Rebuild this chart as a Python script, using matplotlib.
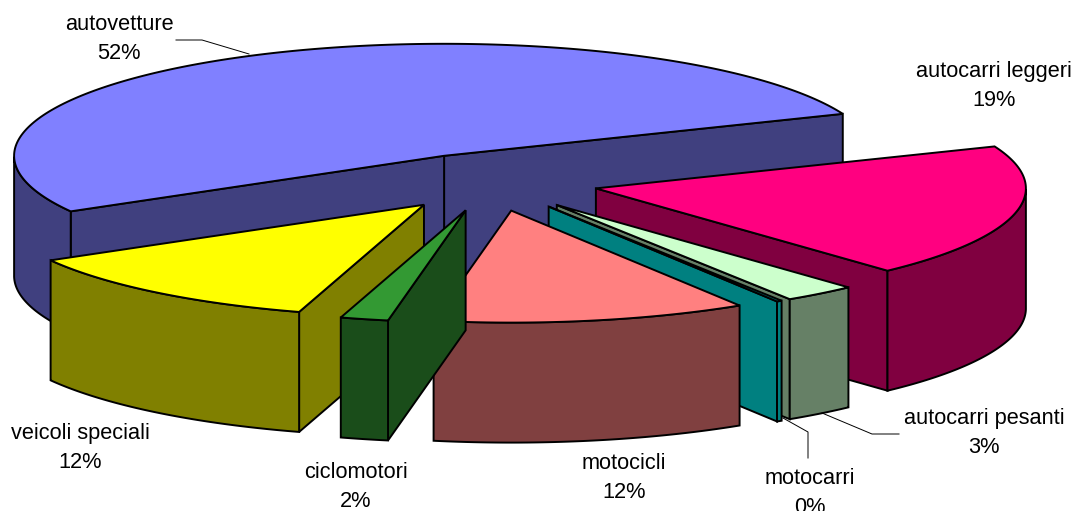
import numpy as np
import matplotlib
matplotlib.use("Agg")
import matplotlib.pyplot as plt
from matplotlib.patches import Polygon

plt.rcParams['font.family'] = ['Liberation Sans', 'DejaVu Sans']

# -----------------------------
# Data (clockwise from the autocarri leggeri slice)
# -----------------------------
labels = ["autocarri leggeri", "autocarri pesanti", "motocarri", "motocicli",
          "ciclomotori", "veicoli speciali", "autovetture"]
values = [19.25, 2.75, 0.2, 11.8, 1.8, 12.05, 52.15]
shown = ["19%", "3%", "0%", "12%", "2%", "12%", "52%"]
top_colors = ["#FF0080", "#CCFFCC", "#008080", "#FF8080", "#339933", "#FFFF00", "#8080FF"]
side_colors = ["#800040", "#668066", "#008080", "#804040", "#1A4D1A", "#808000", "#40407F"]

# -----------------------------
# Pie geometry, in pixels
# -----------------------------
CX, CY = 491, 182
RX, RY = 430, 112
DEPTH = 120
EXPLODE_X, EXPLODE_Y = 0.25, 0.26
START = 22.0
LW = 1.4

label_pos = [(994, 86), (984, 433), (810, 493), (624, 478), (356, 487), (80, 448), (119, 39)]
leaders = [
    [(176, 40), (202, 40), (249, 54)],
    [(899, 434), (872, 434), (822, 413)],
    [(808, 458), (808, 432), (783, 418)],
]
# slices are painted back to front
draw_order = [6, 0, 1, 2, 3, 5, 4]


def rim(t, ox, oy):
    r = np.radians(t)
    return np.column_stack([ox + RX * np.cos(r), oy - RY * np.sin(r)])


def drop(pts):
    return pts + np.array([0, DEPTH])


fig = plt.figure(figsize=(10.75, 5.11), dpi=100)
ax = fig.add_axes([0, 0, 1, 1])
ax.set_xlim(0, 1075)
ax.set_ylim(511, 0)
ax.axis("off")

fracs = np.array(values) / sum(values) * 360
ends = START - np.cumsum(fracs)
starts = ends + fracs

for i in draw_order:
    a1, a2 = starts[i], ends[i]      # a1 > a2, going clockwise
    mid = np.radians((a1 + a2) / 2)
    ox = CX + EXPLODE_X * RX * np.cos(mid)
    oy = CY - EXPLODE_Y * RY * np.sin(mid)
    tip = np.array([[ox, oy]])
    arc = rim(np.linspace(a1, a2, 200), ox, oy)
    side = side_colors[i]

    # cut faces, only when they look towards the viewer
    if np.sin(np.radians(a2 - 90)) < 0:
        edge = np.vstack([tip, arc[-1:]])
        ax.add_patch(Polygon(np.vstack([edge, drop(edge)[::-1]]), fc=side, ec="k", lw=LW))
    if np.sin(np.radians(a1 + 90)) < 0:
        edge = np.vstack([tip, arc[:1]])
        ax.add_patch(Polygon(np.vstack([edge, drop(edge)[::-1]]), fc=side, ec="k", lw=LW))

    # outer band: front half of the rim only
    rad = np.radians(np.linspace(a1, a2, 200))
    front = arc[np.sin(rad) <= 0]
    if len(front) > 1:
        ax.add_patch(Polygon(np.vstack([front, drop(front)[::-1]]), fc=side, ec="k", lw=LW))

    # top
    ax.add_patch(Polygon(np.vstack([tip, arc]), fc=top_colors[i], ec="k", lw=LW))

for pts in leaders:
    xs, ys = zip(*pts)
    ax.plot(xs, ys, color="k", lw=0.7)

for name, pct, (x, y) in zip(labels, shown, label_pos):
    ax.text(x, y, name + "\n" + pct, ha="center", va="center", fontsize=15.7,
            linespacing=1.52, color="k", clip_on=False)

fig.savefig("out.png", dpi=100)
